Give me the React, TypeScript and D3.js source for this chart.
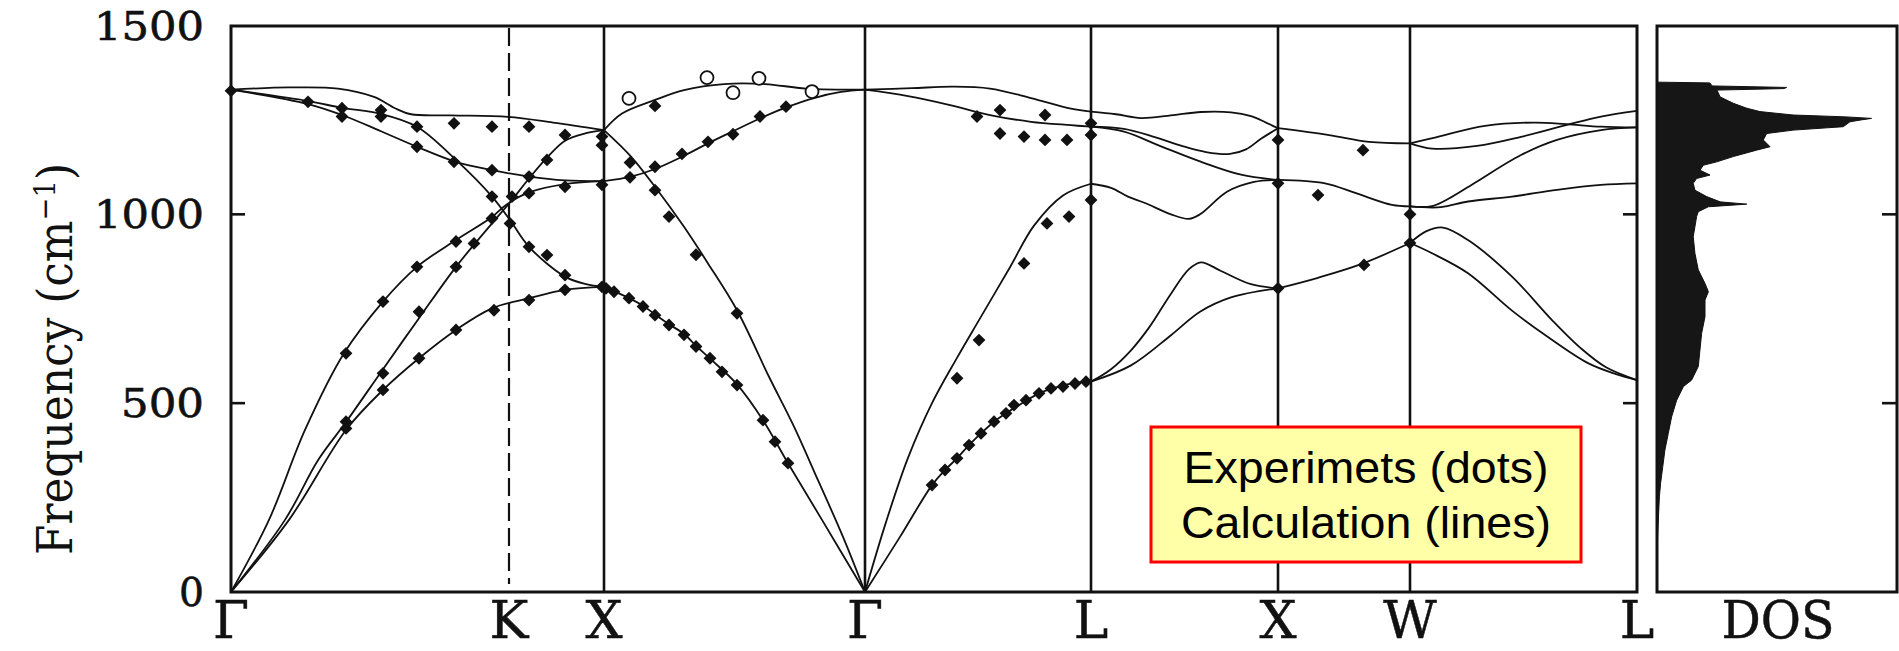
import React from "react";
import * as d3 from "d3";

// ---------- data ----------
const yTicks = [0, 500, 1000, 1500];
const symLabels = ["Γ", "K", "X", "Γ", "L", "X", "W", "L"];
const symK = [0, 2.78, 3.73, 6.34, 8.6, 10.47, 11.79, 14.06];

// Γ–K–X
const gkxOptA = [[0,1330],[0.58,1336],[1.07,1333],[1.43,1311],[1.64,1281],[1.8,1265],[2.2,1262],[2.77,1258],[3.22,1243],[3.73,1223]];
const gkxOptB = [[0,1330],[0.77,1292],[1.11,1263],[1.5,1220],[1.86,1179],[2.25,1139],[2.61,1117],[2.98,1100],[3.34,1090],[3.73,1088]];
const gkxOptC = [[0,1330],[0.77,1300],[1.11,1282],[1.5,1266],[1.86,1232],[2.25,1144],[2.61,1047],[2.79,985],[2.98,914],[3.34,835],[3.55,815],[3.73,808]];
const gkxAc1 = [[0,0],[0.38,191],[0.74,429],[1.13,632],[1.52,769],[1.86,861],[2.25,932],[2.61,993],[2.75,1025],[2.98,1058],[3.34,1080],[3.73,1088]];
const gkxAc2 = [[0,0],[0.54,191],[0.87,349],[1.15,450],[1.52,590],[1.88,725],[2.25,861],[2.61,976],[2.8,1035],[2.98,1095],[3.16,1150],[3.34,1195],[3.55,1215],[3.73,1223]];
const gkxAc3 = [[0,0],[0.58,191],[1.15,429],[1.52,535],[1.88,619],[2.25,694],[2.61,751],[2.98,778],[3.34,800],[3.73,808]];

// X–Γ
const xgLO = [[3.73,1223],[3.91,1267],[4.24,1303],[4.53,1329],[4.93,1345],[5.34,1345],[5.75,1333],[6.34,1330]];
const xgTO = [[3.73,1088],[4.0,1100],[4.24,1120],[4.53,1155],[4.77,1188],[5.02,1220],[5.3,1255],[5.55,1283],[5.83,1308],[6.1,1324],[6.34,1330]];
const xgLA = [[3.73,1223],[4.0,1153],[4.24,1073],[4.53,967],[4.77,870],[5.06,746],[5.38,570],[5.63,438],[5.87,296],[6.12,146],[6.34,0]];
const xgTA = [[3.73,808],[3.95,782],[4.12,758],[4.24,735],[4.38,709],[4.53,683],[4.65,652],[4.79,618],[5.06,550],[5.32,455],[5.57,341],[5.91,191],[6.34,0]];

// Γ–L
const glOptUp = [[6.34,1330],[6.81,1334],[7.22,1338],[7.59,1333],[8.0,1308],[8.4,1280],[8.6,1272]];
const glOptLow = [[6.34,1330],[6.77,1313],[7.18,1290],[7.59,1263],[8.0,1245],[8.4,1236],[8.6,1232]];
const glLA = [[6.34,0],[6.55,185],[6.77,355],[7.01,500],[7.26,620],[7.48,720],[7.79,860],[8.03,970],[8.32,1050],[8.6,1081]];
const glTA = [[6.34,0],[6.69,146],[7.01,283],[7.14,323],[7.26,354],[7.38,389],[7.5,420],[7.63,451],[7.75,473],[7.91,500],[8.08,526],[8.24,541],[8.44,554],[8.6,557]];

// L–X
const lx1 = [[8.6,1272],[8.85,1265],[9.1,1255],[9.4,1262],[9.7,1271],[10.0,1270],[10.2,1260],[10.35,1243],[10.47,1228]];
const lx2 = [[8.6,1232],[8.93,1226],[9.22,1206],[9.5,1182],[9.75,1165],[9.99,1160],[10.15,1172],[10.3,1200],[10.47,1228]];
const lx3 = [[8.6,1232],[8.93,1219],[9.3,1180],[9.69,1140],[10.1,1105],[10.47,1091]];
const lx4 = [[8.6,1081],[8.8,1070],[8.97,1047],[9.14,1030],[9.4,1000],[9.58,988],[9.69,1000],[9.96,1060],[10.23,1086],[10.47,1091]];
const lx5 = [[8.6,557],[8.8,590],[9.0,640],[9.18,700],[9.4,790],[9.58,855],[9.7,873],[9.9,850],[10.2,815],[10.47,804]];
const lx6 = [[8.6,557],[9.0,600],[9.4,680],[9.69,742],[10.0,780],[10.47,804]];

// X–W
const xw1 = [[10.47,1228],[10.98,1210],[11.38,1192],[11.79,1188]];
const xw2 = [[10.47,1091],[10.94,1082],[11.25,1056],[11.61,1025],[11.79,1021]];
const xw3 = [[10.47,804],[10.87,832],[11.3,868],[11.79,924]];

// W–L
const wl1 = [[11.79,1188],[12.01,1174],[12.46,1181],[12.9,1205],[13.35,1236],[13.7,1259],[14.06,1274]];
const wl2 = [[11.79,1188],[12.05,1204],[12.54,1234],[13.03,1243],[13.35,1239],[13.7,1232],[14.06,1230]];
const wl3 = [[11.79,1021],[12.1,1019],[12.37,1034],[12.81,1047],[13.26,1065],[13.7,1078],[14.06,1082]];
const wl4 = [[11.79,1021],[12.01,1022],[12.2,1045],[12.46,1087],[12.9,1157],[13.26,1197],[13.7,1223],[14.06,1230]];
const wl5 = [[11.79,924],[11.95,955],[12.12,965],[12.37,932],[12.81,835],[13.21,720],[13.5,645],[13.75,595],[14.06,561]];
const wl6 = [[11.79,924],[12.01,897],[12.37,844],[12.81,745],[13.17,675],[13.57,606],[13.85,577],[14.06,561]];

const curves = [gkxOptA, gkxOptB, gkxOptC, gkxAc1, gkxAc2, gkxAc3, xgLO, xgTO, xgLA, xgTA,
  glOptUp, glOptLow, glLA, glTA, lx1, lx2, lx3, lx4, lx5, lx6, xw1, xw2, xw3, wl1, wl2, wl3, wl4, wl5, wl6];

// experiments
const expFilled = [
  [0,1327],[0.77,1298],[1.11,1281],[1.11,1259],[1.5,1276],[1.5,1259],[1.86,1232],[1.86,1179],
  [2.23,1241],[2.23,1139],[2.61,1232],[2.61,1117],[2.98,1232],[2.98,1100],[3.16,1144],[3.34,1210],
  [3.34,1073],[3.71,1206],[3.71,1183],[3.71,1078],[3.71,808],[2.61,1047],[2.81,1047],[2.98,1056],
  [2.61,989],[2.79,976],[2.98,914],[3.16,892],[3.34,839],[2.25,928],[2.43,923],[1.86,861],[2.25,861],
  [1.52,769],[1.88,742],[2.63,746],[2.98,773],[3.34,800],
  [1.15,632],[1.52,579],[1.15,451],[1.15,433],[1.52,535],[1.88,619],[2.25,694],
  [4.24,1287],[3.99,1137],[3.99,1098],[4.24,1126],[4.51,1160],[4.77,1192],[5.02,1212],[5.29,1259],[5.55,1285],
  [4.24,1064],[4.38,994],[4.65,893],[5.06,738],
  [3.75,804],[3.83,795],[3.98,778],[4.12,756],[4.24,733],[4.38,707],[4.53,681],[4.65,650],[4.79,619],
  [4.91,583],[5.06,548],[5.32,455],[5.44,398],[5.57,341],
  [7.46,1259],[7.69,1276],[8.14,1263],[7.69,1214],[7.93,1206],[8.14,1197],[8.36,1197],[8.6,1241],[8.6,1210],
  [7.93,870],[8.16,976],[8.38,994],[8.6,1038],[7.26,566],[7.48,667],
  [7.01,283],[7.14,323],[7.26,354],[7.38,389],[7.5,420],[7.63,451],[7.75,473],[7.83,495],[7.95,508],
  [8.08,526],[8.2,539],[8.32,544],[8.44,552],[8.55,557],
  [10.47,1197],[11.32,1170],[10.47,1082],[10.87,1051],[11.79,1000],[11.79,924],[11.33,866],[10.47,804],
];
const expOpen = [[3.98,1307],[4.76,1362],[5.02,1322],[5.28,1360],[5.81,1325]];

// DOS
const dosFreq = [1350,1348,1340,1336,1333,1329,1311,1294,1281,1272,1263,1258,1254,1250,1245,1232,1223,1214,1197,1179,1170,1153,1139,1130,1117,1104,1095,1082,1064,1047,1033,1027,1020,1007,994,967,941,897,853,817,795,773,729,685,641,597,561,544,508,464,420,376,332,288,252,199,155,100,0];
const dosDensity = [0,0.22,0.23,0.54,0.53,0.25,0.263,0.318,0.374,0.429,0.568,0.79,0.894,0.85,0.804,0.776,0.568,0.457,0.443,0.471,0.415,0.318,0.249,0.193,0.179,0.221,0.165,0.151,0.158,0.207,0.263,0.374,0.214,0.172,0.165,0.158,0.151,0.158,0.172,0.2,0.214,0.2,0.2,0.186,0.179,0.172,0.144,0.11,0.082,0.061,0.047,0.033,0.024,0.015,0.01,0.006,0.003,0,0];

const legendLines = ["Experimets (dots)", "Calculation (lines)"];

// ---------- layout ----------
const W = 1899, H = 651;
const plotL = 231, plotR = 1637, plotT = 26, plotB = 592;
const dosL = 1657, dosR = 1897;

export default function App() {
  const x = d3.scaleLinear().domain([0, 14.06]).range([plotL, plotR]);
  const y = d3.scaleLinear().domain([0, 1500]).range([plotB, 25.5]);
  const xd = d3.scaleLinear().domain([0, 1]).range([dosL, dosR]);

  const line = d3.line<number[]>().x((d) => x(d[0])).y((d) => y(d[1])).curve(d3.curveCatmullRom.alpha(0.5));
  const dosData = dosFreq.map((f, i) => [f, dosDensity[i]]);
  const area = d3.area<number[]>().y((d) => y(d[0])).x0(xd(0)).x1((d) => xd(d[1])).curve(d3.curveLinear);
  const diamond = d3.symbol().type(d3.symbolSquare).size(82)();

  const serif = "'DejaVu Serif', serif";
  const tickLen: Record<number, number> = { 0: 25, 500: 83, 1000: 110, 1500: 110 };

  return (
    <svg width={W} height={H} style={{ position: "absolute", left: 0, top: 0, background: "#fff" }}>
      <rect x={0} y={0} width={W} height={H} fill="#fff" />
      {/* curves */}
      <g fill="none" stroke="#111" strokeWidth={1.8}>
        {curves.map((c, i) => (
          <path key={i} d={line(c) || ""} />
        ))}
      </g>
      {/* symmetry lines */}
      <g stroke="#111" strokeWidth={2.6}>
        {symK.map((k, i) =>
          i === 0 || i === symK.length - 1 || symLabels[i] === "K" ? null : (
            <line key={i} x1={x(k)} x2={x(k)} y1={plotT} y2={plotB} />
          )
        )}
        <line x1={x(symK[1])} x2={x(symK[1])} y1={plotT + 2} y2={plotB - 8} strokeDasharray="18,7" strokeWidth={2.2} />
      </g>
      {/* frame */}
      <rect x={plotL} y={plotT} width={plotR - plotL} height={plotB - plotT} fill="none" stroke="#111" strokeWidth={3} />
      {/* inner ticks */}
      <g stroke="#111" strokeWidth={2.6}>
        {[500, 1000].map((t) => (
          <g key={t}>
            <line x1={plotL} x2={plotL + 14} y1={y(t)} y2={y(t)} />
            <line x1={plotR} x2={plotR - 14} y1={y(t)} y2={y(t)} />
            <line x1={dosR} x2={dosR - 15} y1={y(t)} y2={y(t)} />
          </g>
        ))}
      </g>
      {/* experiments */}
      <g fill="#111">
        {expFilled.map((p, i) => (
          <path key={i} d={diamond} transform={`translate(${x(p[0])},${y(p[1])}) rotate(45)`} />
        ))}
      </g>
      <g fill="#fff" stroke="#111" strokeWidth={1.8}>
        {expOpen.map((p, i) => (
          <circle key={i} cx={x(p[0])} cy={y(p[1])} r={6.5} />
        ))}
      </g>
      {/* DOS */}
      <path d={area(dosData) || ""} fill="#161616" stroke="#111" strokeWidth={1} />
      <rect x={dosL} y={plotT} width={dosR - dosL} height={plotB - plotT} fill="none" stroke="#111" strokeWidth={3} />
      {/* y tick labels */}
      <g fontFamily={serif} fontSize={39} fill="#111" stroke="#111" strokeWidth={0.6}>
        {yTicks.map((t) => (
          <text key={t} x={204} y={y(t) + 14} textAnchor="end" textLength={tickLen[t]} lengthAdjust="spacingAndGlyphs">
            {t}
          </text>
        ))}
      </g>
      {/* x labels */}
      <g fontFamily={serif} fontSize={52} fill="#111" stroke="#111" strokeWidth={0.5}>
        {symLabels.map((s, i) => (
          <text key={i} x={x(symK[i])} y={638} textAnchor="middle">
            {s}
          </text>
        ))}
        <text x={1778} y={638} textAnchor="middle" textLength={113} lengthAdjust="spacingAndGlyphs">DOS</text>
      </g>
      {/* y title */}
      <text
        transform={`translate(72,359) rotate(-90)`}
        textAnchor="middle"
        fontFamily={serif}
        fontSize={48}
        fill="#111"
        textLength={392}
        lengthAdjust="spacingAndGlyphs"
      >
        Frequency (cm<tspan baselineShift="super" fontSize={30}>−1</tspan>)
      </text>
      {/* legend */}
      <rect x={1151} y={427} width={430} height={135} fill="#FFFFA8" stroke="#FF0000" strokeWidth={3} />
      <g fontFamily="'Liberation Sans', Arial, sans-serif" fontSize={45} fill="#000" textAnchor="middle">
        <text x={1366} y={483} textLength={365} lengthAdjust="spacingAndGlyphs">{legendLines[0]}</text>
        <text x={1366} y={538} textLength={370} lengthAdjust="spacingAndGlyphs">{legendLines[1]}</text>
      </g>
    </svg>
  );
}
